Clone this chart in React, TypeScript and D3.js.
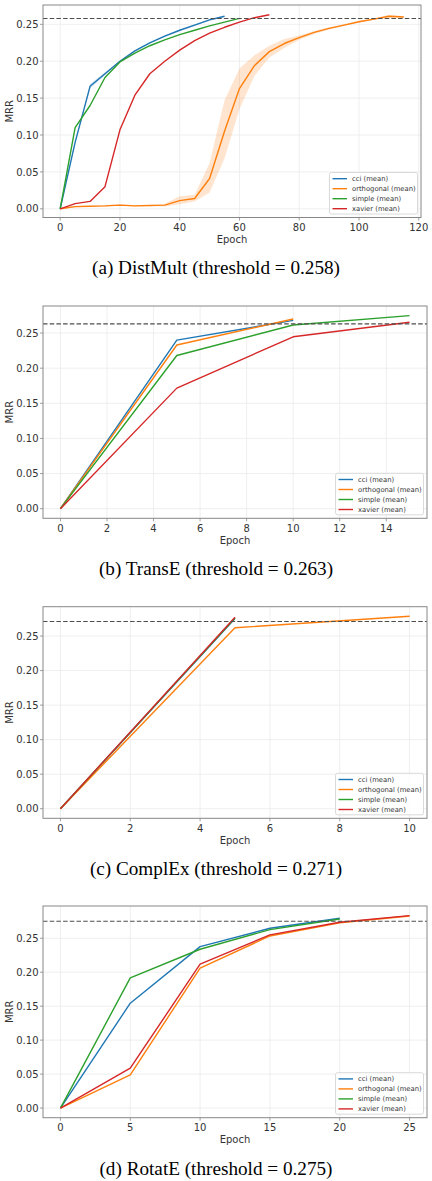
import React from 'react';
import * as d3 from 'd3';

const seriesNames = ['cci (mean)', 'orthogonal (mean)', 'simple (mean)', 'xavier (mean)'];
const seriesColors = ['#1f77b4', '#ff7f0e', '#2ca02c', '#d62728'];

// (a) DistMult
const dmCciEpochs = [0, 5, 10, 15, 20, 25, 30, 35, 40, 45, 50, 55];
const dmCci = [0, 0.09, 0.166, 0.183, 0.2, 0.214, 0.225, 0.234, 0.242, 0.249, 0.256, 0.261];
const dmCciLo = [0, 0.088, 0.163, 0.181, 0.199, 0.213, 0.224, 0.233, 0.241, 0.248, 0.255, 0.26];
const dmCciHi = [0, 0.092, 0.169, 0.185, 0.201, 0.215, 0.226, 0.235, 0.243, 0.25, 0.257, 0.262];
const dmOrthoEpochs = [0, 5, 10, 15, 20, 25, 30, 35, 40, 45, 50, 55, 60, 65, 70, 75, 80, 85, 90, 95, 100, 105, 110, 115];
const dmOrtho = [0, 0.003, 0.0035, 0.004, 0.005, 0.004, 0.0045, 0.005, 0.011, 0.014, 0.041, 0.105, 0.163, 0.194, 0.213, 0.224, 0.232, 0.239, 0.2445, 0.249, 0.2535, 0.257, 0.261, 0.26];
const dmOrthoLo = [0, 0.002, 0.003, 0.003, 0.004, 0.003, 0.004, 0.003, 0.006, 0.01, 0.022, 0.068, 0.135, 0.18, 0.205, 0.218, 0.229, 0.237, 0.243, 0.248, 0.252, 0.256, 0.259, 0.259];
const dmOrthoHi = [0, 0.004, 0.004, 0.005, 0.006, 0.005, 0.005, 0.007, 0.017, 0.019, 0.062, 0.147, 0.19, 0.208, 0.221, 0.23, 0.235, 0.241, 0.246, 0.25, 0.255, 0.258, 0.263, 0.261];
const dmSimpleEpochs = [0, 5, 10, 15, 20, 25, 30, 35, 40, 45, 50, 55, 60];
const dmSimple = [0, 0.11, 0.14, 0.178, 0.199, 0.211, 0.221, 0.229, 0.236, 0.242, 0.248, 0.253, 0.258];
const dmXavierEpochs = [0, 5, 10, 15, 20, 25, 30, 35, 40, 45, 50, 55, 60, 65, 70];
const dmXavier = [0, 0.007, 0.01, 0.03, 0.107, 0.154, 0.183, 0.2, 0.215, 0.228, 0.238, 0.246, 0.253, 0.259, 0.263];

// (b) TransE
const teCciEpochs = [0, 5, 10];
const teCci = [0, 0.24, 0.268];
const teOrthoEpochs = [0, 5, 10];
const teOrtho = [0, 0.233, 0.27];
const teSimpleEpochs = [0, 5, 10, 15];
const teSimple = [0, 0.218, 0.2615, 0.2748];
const teXavierEpochs = [0, 5, 10, 15];
const teXavier = [0, 0.1716, 0.2447, 0.2653];

// (c) ComplEx
const ceCciEpochs = [0, 5];
const ceCci = [0, 0.2755];
const ceOrthoEpochs = [0, 5, 10];
const ceOrtho = [0, 0.262, 0.2786];
const ceSimpleEpochs = [0, 5];
const ceSimple = [0, 0.276];
const ceXavierEpochs = [0, 5];
const ceXavier = [0, 0.2772];

// (d) RotatE
const reCciEpochs = [0, 5, 10, 15, 20];
const reCci = [0, 0.1544, 0.2377, 0.2647, 0.2794];
const reOrthoEpochs = [0, 5, 10, 15, 20, 25];
const reOrtho = [0, 0.049, 0.2059, 0.2534, 0.2728, 0.2828];
const reSimpleEpochs = [0, 5, 10, 15, 20];
const reSimple = [0, 0.1916, 0.2338, 0.2627, 0.2784];
const reXavierEpochs = [0, 5, 10, 15, 20, 25];
const reXavier = [0, 0.0588, 0.2118, 0.2549, 0.2735, 0.2833];

const yTicks = [0, 0.05, 0.1, 0.15, 0.2, 0.25];
const dmXTicks = [0, 20, 40, 60, 80, 100, 120];
const teXTicks = [0, 2, 4, 6, 8, 10, 12, 14];
const ceXTicks = [0, 2, 4, 6, 8, 10];
const reXTicks = [0, 5, 10, 15, 20, 25];

const captions = [
  '(a) DistMult (threshold = 0.258)',
  '(b) TransE (threshold = 0.263)',
  '(c) ComplEx (threshold = 0.271)',
  '(d) RotatE (threshold = 0.275)',
];
const thresholds = [0.258, 0.263, 0.271, 0.275];

type Series = { x: number[]; y: number[]; lo?: number[]; hi?: number[] };

type PanelProps = {
  left: number; right: number; top: number; bottom: number;
  xDomain: [number, number]; yDomain: [number, number];
  xTicks: number[]; series: Series[]; threshold: number;
  caption: string; captionY: number;
};

const sans = 'DejaVu Sans, sans-serif';

function Panel(p: PanelProps) {
  const x = d3.scaleLinear().domain(p.xDomain).range([p.left, p.right]);
  const y = d3.scaleLinear().domain(p.yDomain).range([p.bottom, p.top]);
  const line = d3.line<[number, number]>().x((d) => x(d[0])).y((d) => y(d[1]));
  const area = d3.area<[number, number, number]>().x((d) => x(d[0])).y0((d) => y(d[1])).y1((d) => y(d[2]));
  const fmtY = d3.format('.2f');
  const lgW = 88, lgH = 41.5;
  const lgX = p.right - 3.5 - lgW, lgY = p.bottom - 3.5 - lgH;
  const cx = (p.left + p.right) / 2;
  return (
    <g>
      {p.xTicks.map((t) => (
        <line key={'gx' + t} x1={x(t)} x2={x(t)} y1={p.top} y2={p.bottom} stroke="#ebebeb" strokeWidth={0.8} />
      ))}
      {yTicks.map((t) => (
        <line key={'gy' + t} x1={p.left} x2={p.right} y1={y(t)} y2={y(t)} stroke="#ebebeb" strokeWidth={0.8} />
      ))}
      {p.series.map((s, i) =>
        s.lo && s.hi ? (
          <path key={'b' + i} d={area(s.x.map((e, k) => [e, s.lo![k], s.hi![k]] as [number, number, number])) || ''}
            fill={seriesColors[i]} fillOpacity={0.2} stroke="none" />
        ) : null
      )}
      {p.series.map((s, i) => (
        <path key={'l' + i} d={line(s.x.map((e, k) => [e, s.y[k]] as [number, number])) || ''}
          fill="none" stroke={seriesColors[i]} strokeWidth={1.4} strokeLinejoin="round" />
      ))}
      <line x1={p.left} x2={p.right} y1={y(p.threshold)} y2={y(p.threshold)} stroke="#4d4d4d" strokeWidth={1.1} strokeDasharray="4.5,2.2" />
      <rect x={p.left} y={p.top} width={p.right - p.left} height={p.bottom - p.top} fill="none" stroke="#888" strokeWidth={1} />
      {p.xTicks.map((t) => (
        <g key={'tx' + t}>
          <line x1={x(t)} x2={x(t)} y1={p.bottom} y2={p.bottom + 3} stroke="#888" strokeWidth={0.8} />
          <text x={x(t)} y={p.bottom + 13.5} textAnchor="middle" fontFamily={sans} fontSize={10} fill="#333">{t}</text>
        </g>
      ))}
      {yTicks.map((t) => (
        <g key={'ty' + t}>
          <line x1={p.left - 3} x2={p.left} y1={y(t)} y2={y(t)} stroke="#888" strokeWidth={0.8} />
          <text x={p.left - 4.5} y={y(t) + 3.6} textAnchor="end" fontFamily={sans} fontSize={10} fill="#333">{fmtY(t)}</text>
        </g>
      ))}
      <text x={cx} y={p.bottom + 25.5} textAnchor="middle" fontFamily={sans} fontSize={10} fill="#333">Epoch</text>
      <text transform={`translate(12.5,${(p.top + p.bottom) / 2}) rotate(-90)`} textAnchor="middle" fontFamily={sans} fontSize={10} fill="#333">MRR</text>
      <rect x={lgX} y={lgY} width={lgW} height={lgH} rx={2} fill="#fff" fillOpacity={0.8} stroke="#d0d0d0" strokeWidth={0.8} />
      {seriesNames.map((n, i) => (
        <g key={'lg' + i}>
          <line x1={lgX + 3} x2={lgX + 17.5} y1={lgY + 6.2 + i * 10} y2={lgY + 6.2 + i * 10} stroke={seriesColors[i]} strokeWidth={1.4} />
          <text x={lgX + 22.5} y={lgY + 8.6 + i * 10} fontFamily={sans} fontSize={6.8} fill="#333">{n}</text>
        </g>
      ))}
      <text x={216} y={p.captionY} textAnchor="middle" fontFamily="Liberation Serif, Times New Roman, serif" fontSize={19.2} fill="#000">{p.caption}</text>
    </g>
  );
}

export default function App() {
  return (
    <svg width={432} height={1181} style={{ position: 'absolute', left: 0, top: 0, background: '#fff' }}>
      <rect x={0} y={0} width={432} height={1181} fill="#fff" />
      <Panel left={43} right={421} top={5} bottom={217.5} xDomain={[-5.75, 120.75]} yDomain={[-0.0118, 0.2762]}
        xTicks={dmXTicks} threshold={thresholds[0]} caption={captions[0]} captionY={274}
        series={[
          { x: dmCciEpochs, y: dmCci, lo: dmCciLo, hi: dmCciHi },
          { x: dmOrthoEpochs, y: dmOrtho, lo: dmOrthoLo, hi: dmOrthoHi },
          { x: dmSimpleEpochs, y: dmSimple },
          { x: dmXavierEpochs, y: dmXavier },
        ]} />
      <Panel left={43} right={427} top={306} bottom={518.3} xDomain={[-0.75, 15.75]} yDomain={[-0.0137, 0.2885]}
        xTicks={teXTicks} threshold={thresholds[1]} caption={captions[1]} captionY={574.5}
        series={[
          { x: teCciEpochs, y: teCci },
          { x: teOrthoEpochs, y: teOrtho },
          { x: teSimpleEpochs, y: teSimple },
          { x: teXavierEpochs, y: teXavier },
        ]} />
      <Panel left={43} right={427} top={606.7} bottom={818.3} xDomain={[-0.5, 10.5]} yDomain={[-0.0139, 0.2925]}
        xTicks={ceXTicks} threshold={thresholds[2]} caption={captions[2]} captionY={874.5}
        series={[
          { x: ceCciEpochs, y: ceCci },
          { x: ceOrthoEpochs, y: ceOrtho },
          { x: ceSimpleEpochs, y: ceSimple },
          { x: ceXavierEpochs, y: ceXavier },
        ]} />
      <Panel left={43} right={427} top={906} bottom={1117.7} xDomain={[-1.25, 26.25]} yDomain={[-0.0142, 0.2975]}
        xTicks={reXTicks} threshold={thresholds[3]} caption={captions[3]} captionY={1174.5}
        series={[
          { x: reCciEpochs, y: reCci },
          { x: reOrthoEpochs, y: reOrtho },
          { x: reSimpleEpochs, y: reSimple },
          { x: reXavierEpochs, y: reXavier },
        ]} />
    </svg>
  );
}
